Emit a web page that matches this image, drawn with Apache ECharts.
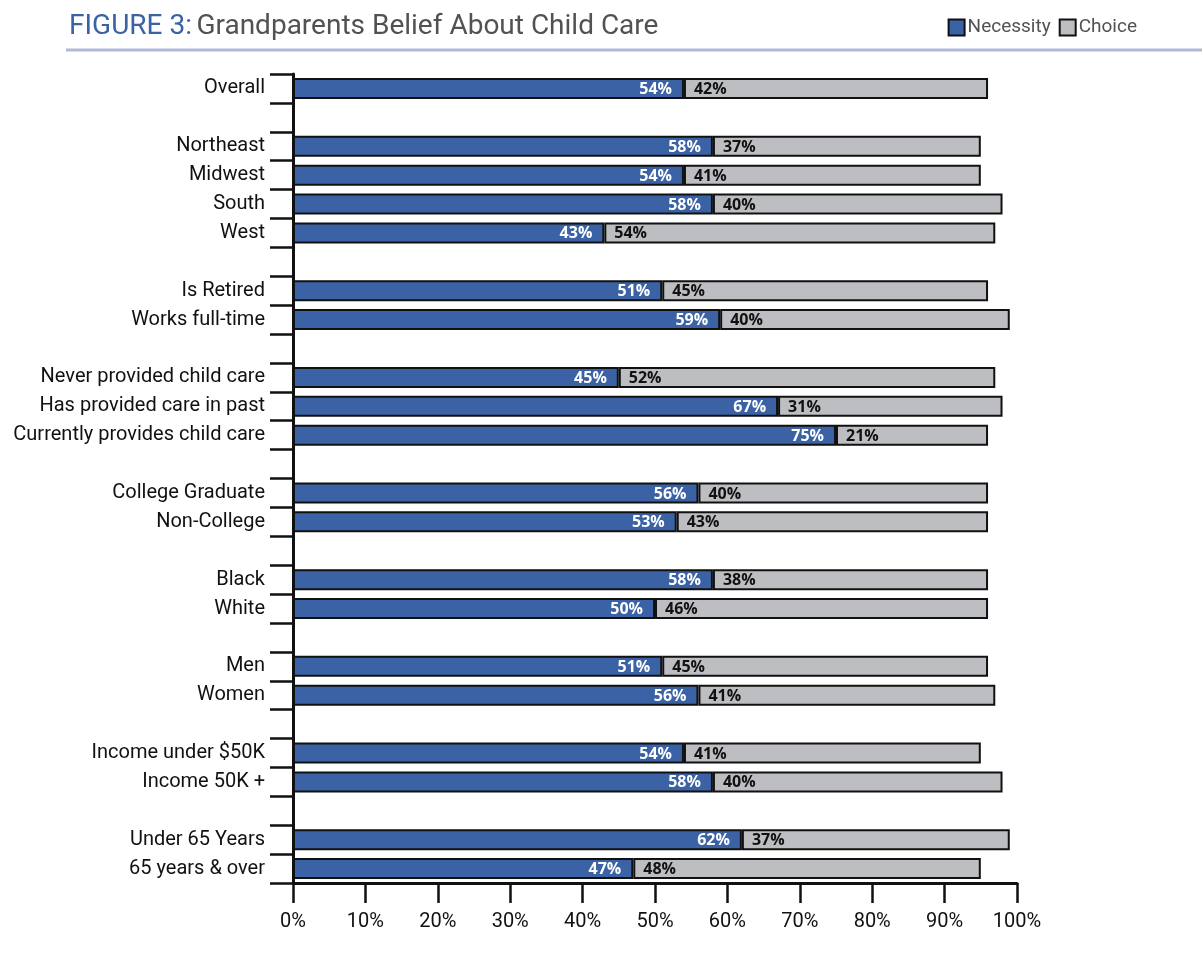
<!DOCTYPE html>
<html>
<head>
<meta charset="utf-8">
<script src="https://cdn.jsdelivr.net/npm/echarts@6/dist/echarts.min.js"></script>
<style>
  html, body { margin: 0; padding: 0; background: #ffffff; }
  #chart { width: 1202px; height: 953px; }
</style>
</head>
<body>
<div id="chart"></div>
<script>
// Row labels, top to bottom; empty strings are spacer rows between groups
const categories = [
  'Overall', '',
  'Northeast', 'Midwest', 'South', 'West', '',
  'Is Retired', 'Works full-time', '',
  'Never provided child care', 'Has provided care in past', 'Currently provides child care', '',
  'College Graduate', 'Non-College', '',
  'Black', 'White', '',
  'Men', 'Women', '',
  'Income under $50K', 'Income 50K +', '',
  'Under 65 Years', '65 years & over'
];

// Percent who see grandparent child care as a necessity (null on spacer rows)
const necessity = [
  54, null,
  58, 54, 58, 43, null,
  51, 59, null,
  45, 67, 75, null,
  56, 53, null,
  58, 50, null,
  51, 56, null,
  54, 58, null,
  62, 47
];

// Percent who see it as a choice
const choice = [
  42, null,
  37, 41, 40, 54, null,
  45, 40, null,
  52, 31, 21, null,
  40, 43, null,
  38, 46, null,
  45, 41, null,
  41, 40, null,
  37, 48
];

const xTicks = { min: 0, max: 100, interval: 10 };

const FONT = 'Roboto, "Open Sans", sans-serif';
const LABEL_FONT = '"Open Sans", Roboto, sans-serif';
const BLUE = '#3a62a4';
const GREY = '#bdbec2';

// Spacer rows need distinct keys on the category axis; they render blank
const axisCategories = categories.map((c, i) => c === '' ? ' '.repeat(i + 1) : c);

const chart = echarts.init(document.getElementById('chart'), null, { renderer: 'canvas' });

chart.setOption({
  backgroundColor: '#ffffff',
  animation: false,
  title: {
    text: '{a|FIGURE 3:} {b|Grandparents Belief About Child Care}',
    left: 64,
    top: 8,
    textStyle: {
      fontFamily: FONT,
      fontWeight: 'normal',
      rich: {
        a: { fontFamily: FONT, fontSize: 28, fontWeight: 'normal', color: '#3a62a4' },
        b: { fontFamily: FONT, fontSize: 28, fontWeight: 'normal', color: '#525252' }
      }
    }
  },
  legend: {
    right: 60,
    top: 13,
    icon: 'rect',
    itemWidth: 16,
    itemHeight: 16,
    itemGap: 8,
    textStyle: { fontFamily: FONT, fontSize: 19, color: '#525252', padding: [0, 0, 0, -2] },
    data: ['Necessity', 'Choice']
  },
  graphic: [
    {
      type: 'line',
      shape: { x1: 66, y1: 50, x2: 1202, y2: 50 },
      style: { stroke: '#b1b8d8', lineWidth: 3 }
    }
  ],
  grid: {
    left: 293,
    right: 185,
    top: 74,
    bottom: 70,
    containLabel: false
  },
  xAxis: {
    type: 'value',
    min: xTicks.min,
    max: xTicks.max,
    interval: xTicks.interval,
    axisLine: { show: true, lineStyle: { color: '#111111', width: 3 } },
    axisTick: { show: true, length: 20, lineStyle: { color: '#111111', width: 2.5 } },
    axisLabel: {
      formatter: '{value}%',
      fontFamily: FONT,
      fontSize: 20,
      color: '#111111',
      margin: 29
    },
    splitLine: { show: false }
  },
  yAxis: {
    type: 'category',
    inverse: true,
    data: axisCategories,
    axisLine: { show: true, lineStyle: { color: '#111111', width: 3 } },
    axisTick: { show: true, length: 23, lineStyle: { color: '#111111', width: 2.5 } },
    axisLabel: {
      fontFamily: FONT,
      fontSize: 20,
      color: '#111111',
      margin: 28,
      interval: 0,
      padding: [3, 0, 0, 0]
    }
  },
  series: [
    {
      name: 'Necessity',
      type: 'bar',
      stack: 'total',
      barWidth: 21,
      data: necessity,
      itemStyle: { color: BLUE, borderColor: '#111111', borderWidth: 2 },
      label: {
        show: true,
        position: 'insideRight',
        offset: [-7, 1],
        formatter: p => p.value + '%',
        fontFamily: LABEL_FONT,
        fontWeight: 'bold',
        fontSize: 16,
        color: '#ffffff'
      }
    },
    {
      name: 'Choice',
      type: 'bar',
      stack: 'total',
      barWidth: 21,
      data: choice,
      itemStyle: { color: GREY, borderColor: '#111111', borderWidth: 2 },
      label: {
        show: true,
        position: 'insideLeft',
        offset: [5, 1],
        formatter: p => p.value + '%',
        fontFamily: LABEL_FONT,
        fontWeight: 'bold',
        fontSize: 16,
        color: '#111111'
      }
    }
  ]
});
</script>
</body>
</html>
